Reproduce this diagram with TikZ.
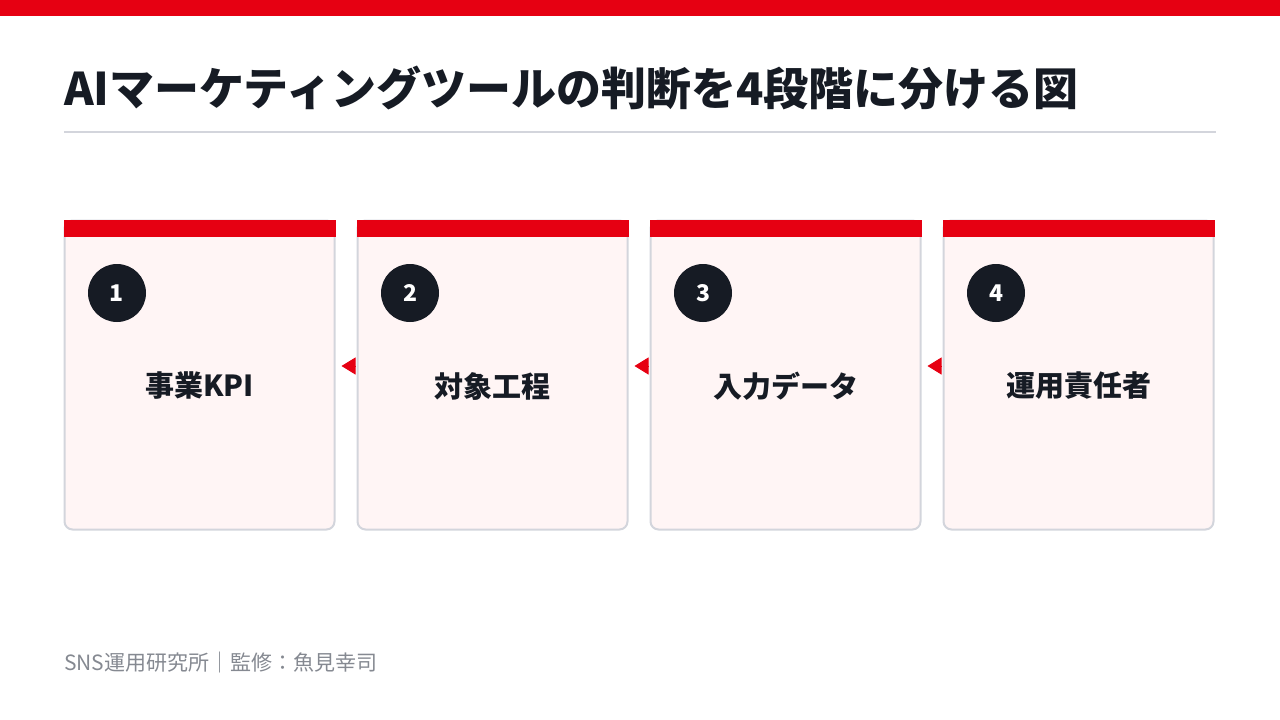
\documentclass[tikz,border=0pt]{standalone}
\usepackage{fontspec}
\setmainfont{Noto Sans CJK JP}
\usepackage{tikz}
\usetikzlibrary{arrows.meta, positioning}

\definecolor{brandred}{HTML}{E60012}
\definecolor{inkdark}{HTML}{161B24}
\definecolor{rulegray}{HTML}{D3D5DC}
\definecolor{cardfill}{HTML}{FFF5F5}
\definecolor{footgray}{HTML}{858991}

\tikzset{
  stage/.style={draw=rulegray, line width=2pt, fill=cardfill, rounded corners=8pt,
    minimum width=270pt, minimum height=309pt, inner sep=0pt},
  badge/.style={circle, fill=inkdark, minimum size=58pt, inner sep=0pt,
    text=white, font=\fontsize{23}{25}\selectfont\bfseries},
  stagelabel/.style={text=inkdark, inner sep=0pt, font=\fontsize{29}{32}\selectfont\bfseries},
  flow/.style={draw=brandred, fill=brandred, line width=1pt,
    -{Triangle[length=14pt, width=17pt]}, shorten >=6pt, shorten <=2pt}
}

\begin{document}
\begin{tikzpicture}[x=1pt, y=-1pt]
            \useasboundingbox (0,0) rectangle (1280,720);
            \fill[brandred] (0,0) rectangle (1280,16);

            \node[anchor=west, inner sep=0pt, text=inkdark, font=\fontsize{45}{48}\selectfont\bfseries]
              at (64,88) (title) {AIマーケティングツールの判断を4段階に分ける図};
            \draw[rulegray, line width=2pt] (64,132) -- (1216,132);

            \node[stage] at (199.5,375) (s1) {};
            \node[stage] at (492.5,375) (s2) {};
            \node[stage] at (785.5,375) (s3) {};
            \node[stage] at (1078.5,375) (s4) {};

            \fill[brandred] (s1.north west) rectangle ([yshift=-17pt]s1.north east);
            \fill[brandred] (s2.north west) rectangle ([yshift=-17pt]s2.north east);
            \fill[brandred] (s3.north west) rectangle ([yshift=-17pt]s3.north east);
            \fill[brandred] (s4.north west) rectangle ([yshift=-17pt]s4.north east);

            \node[badge] at (117,293) (n1) {1};
            \node[badge] at (410,293) (n2) {2};
            \node[badge] at (703,293) (n3) {3};
            \node[badge] at (996,293) (n4) {4};

            \node[stagelabel] at (199.5,386) (t1) {事業KPI};
            \node[stagelabel] at (492.5,386) (t2) {対象工程};
            \node[stagelabel] at (785.5,386) (t3) {入力データ};
            \node[stagelabel] at (1078.5,386) (t4) {運用責任者};

            \draw[flow] ([yshift=9pt]s2.west) -- ([yshift=9pt]s1.east);
            \draw[flow] ([yshift=9pt]s3.west) -- ([yshift=9pt]s2.east);
            \draw[flow] ([yshift=9pt]s4.west) -- ([yshift=9pt]s3.east);

            \node[anchor=west, inner sep=0pt, text=footgray, font=\fontsize{21}{23}\selectfont]
              at (64,663) (credit) {SNS運用研究所｜監修：魚見幸司};
        \end{tikzpicture}
\end{document}
